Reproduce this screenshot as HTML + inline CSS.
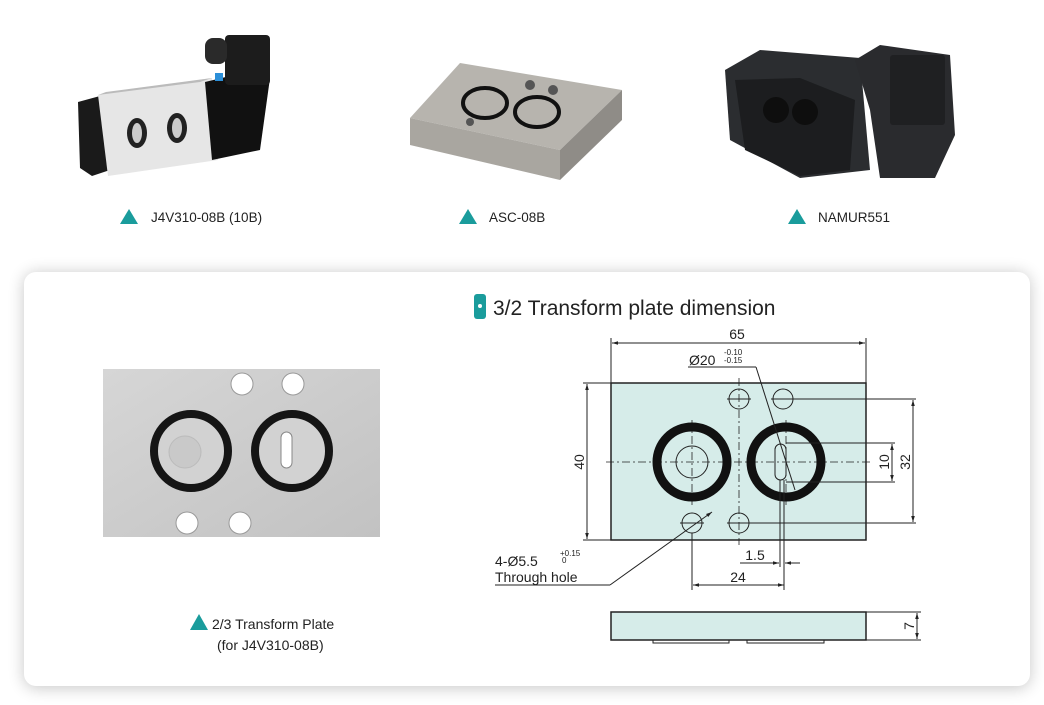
<!DOCTYPE html>
<html><head><meta charset="utf-8"><style>
html,body{margin:0;padding:0;background:#fff;}
svg{display:block;}
text{font-family:"Liberation Sans",sans-serif;}
</style></head><body>
<svg width="1044" height="705" viewBox="0 0 1044 705" xmlns="http://www.w3.org/2000/svg">
<defs>
<filter id="sh" x="-5%" y="-10%" width="110%" height="120%"><feGaussianBlur stdDeviation="8"/></filter>
<linearGradient id="al" x1="0" y1="0" x2="1" y2="1"><stop offset="0" stop-color="#d6d6d6"/><stop offset="1" stop-color="#c2c2c2"/></linearGradient>
<marker id="ar" viewBox="0 0 10 10" refX="10" refY="5" markerWidth="6" markerHeight="6" orient="auto-start-reverse"><path d="M0,2 L10,5 L0,8 z" fill="#222"/></marker>
</defs>
<rect x="24" y="273" width="1006" height="415" rx="12" fill="#000" opacity="0.22" filter="url(#sh)"/>
<rect x="24" y="272" width="1006" height="414" rx="12" fill="#fff"/>

<!-- product 1: valve -->
<polygon points="78,102 100,96 110,170 92,176 80,168" fill="#1a1a1a"/>
<polygon points="98,95 212,78 218,160 108,176" fill="#e6e6e6"/>
<polygon points="98,95 200,82 212,78 106,92" fill="#bbb"/>
<ellipse cx="137" cy="133" rx="10" ry="15" fill="#222"/><ellipse cx="137" cy="133" rx="5" ry="10" fill="#ccc"/>
<ellipse cx="177" cy="128" rx="10" ry="15" fill="#222"/><ellipse cx="177" cy="128" rx="5" ry="10" fill="#ccc"/>
<polygon points="205,82 255,70 270,78 260,150 212,160" fill="#111"/>
<rect x="225" y="35" width="45" height="50" rx="4" fill="#1c1c1c"/>
<rect x="205" y="38" width="22" height="26" rx="8" fill="#2a2a2a"/>
<rect x="215" y="73" width="8" height="8" fill="#2c8fd8"/>
<!-- product 2: ASC plate -->
<polygon points="410,118 460,63 622,90 560,150" fill="#b7b4ae"/>
<polygon points="410,118 560,150 560,180 410,145" fill="#a9a6a0"/>
<polygon points="560,150 622,90 622,120 560,180" fill="#8f8c87"/>
<ellipse cx="485" cy="103" rx="22" ry="15" fill="none" stroke="#111" stroke-width="4"/>
<ellipse cx="537" cy="112" rx="22" ry="15" fill="none" stroke="#111" stroke-width="4"/>
<circle cx="530" cy="85" r="5" fill="#555"/><circle cx="553" cy="90" r="5" fill="#555"/><circle cx="470" cy="122" r="4" fill="#555"/>
<!-- product 3: NAMUR -->
<polygon points="725,70 760,50 860,58 870,170 800,178 730,140" fill="#2b2d30"/>
<polygon points="735,80 800,78 855,100 850,170 800,176 745,150" fill="#1c1d1f"/>
<circle cx="776" cy="110" r="13" fill="#0e0e0e"/><circle cx="805" cy="112" r="13" fill="#0e0e0e"/>
<polygon points="855,60 880,45 950,55 955,135 935,178 880,178 870,110" fill="#2a2b2e"/>
<rect x="890" y="55" width="55" height="70" rx="3" fill="#1f2022"/>
<!-- captions -->
<g font-size="13.5" fill="#222">
<polygon points="120,224 129,209 138,224" fill="#1a9c9c"/><text x="151" y="222">J4V310-08B (10B)</text>
<polygon points="459,224 468,209 477,224" fill="#1a9c9c"/><text x="489" y="222">ASC-08B</text>
<polygon points="788,224 797,209 806,224" fill="#1a9c9c"/><text x="818" y="222">NAMUR551</text>
</g>

<!-- left plate photo -->
<rect x="103" y="369" width="277" height="168" fill="url(#al)"/>
<circle cx="242" cy="384" r="11" fill="#fff" stroke="#999"/><circle cx="293" cy="384" r="11" fill="#fff" stroke="#999"/>
<circle cx="187" cy="523" r="11" fill="#fff" stroke="#999"/><circle cx="240" cy="523" r="11" fill="#fff" stroke="#999"/>
<circle cx="191" cy="451" r="37" fill="#d2d2d2" stroke="#151515" stroke-width="8"/>
<circle cx="185" cy="452" r="16" fill="#c9c9c9" stroke="#bbb"/>
<circle cx="292" cy="451" r="37" fill="#d2d2d2" stroke="#151515" stroke-width="8"/>
<rect x="281" y="432" width="11" height="36" rx="5.5" fill="#fff" stroke="#888"/>
<polygon points="190,630 199,614 208,630" fill="#1a9c9c"/>
<text x="212" y="629" font-size="14" fill="#222">2/3 Transform Plate</text>
<text x="217" y="650" font-size="14" fill="#222">(for J4V310-08B)</text>

<!-- title -->
<rect x="474" y="294" width="12" height="25" rx="3" fill="#1a9c9c"/><circle cx="480" cy="306" r="2" fill="#fff"/>
<text x="493" y="315" font-size="21" fill="#222">3/2 Transform plate dimension</text>

<!-- drawing -->
<g stroke="#222" stroke-width="1" fill="none">
<rect x="611" y="383" width="255" height="157" fill="#d6ece9" stroke-width="1.5"/>
<line x1="611" y1="338" x2="611" y2="383"/><line x1="866" y1="338" x2="866" y2="383"/>
<line x1="612" y1="343" x2="865" y2="343" marker-start="url(#ar)" marker-end="url(#ar)"/>
<line x1="583" y1="383" x2="611" y2="383"/><line x1="583" y1="540" x2="611" y2="540"/>
<line x1="587" y1="384" x2="587" y2="539" marker-start="url(#ar)" marker-end="url(#ar)"/>
<g stroke-dasharray="8,3,2,3" stroke-width="0.8">
<line x1="606" y1="462" x2="870" y2="462"/><line x1="739" y1="378" x2="739" y2="545"/>
<line x1="692" y1="420" x2="692" y2="505"/><line x1="786" y1="420" x2="786" y2="505"/>
</g>
<circle cx="692" cy="462" r="35" stroke="#111" stroke-width="9"/>
<circle cx="786" cy="462" r="35" stroke="#111" stroke-width="9"/>
<circle cx="692" cy="462" r="16"/>
<rect x="775" y="444" width="11" height="36" rx="5.5"/>
<circle cx="739" cy="399" r="10"/><circle cx="783" cy="399" r="10"/>
<circle cx="692" cy="523" r="10"/><circle cx="739" cy="523" r="10"/>
<line x1="727" y1="399" x2="751" y2="399"/><line x1="771" y1="399" x2="916" y2="399"/>
<line x1="680" y1="523" x2="704" y2="523"/><line x1="727" y1="523" x2="916" y2="523"/>
<line x1="913" y1="400" x2="913" y2="522" marker-start="url(#ar)" marker-end="url(#ar)"/>
<line x1="786" y1="443" x2="895" y2="443"/><line x1="786" y1="482" x2="895" y2="482"/>
<line x1="892" y1="444" x2="892" y2="481" marker-start="url(#ar)" marker-end="url(#ar)"/>
<line x1="688" y1="367" x2="756" y2="367"/><line x1="756" y1="367" x2="795" y2="490"/>
<line x1="780" y1="480" x2="780" y2="567"/><line x1="784" y1="480" x2="784" y2="590"/>
<line x1="740" y1="563" x2="779" y2="563" marker-end="url(#ar)"/><line x1="800" y1="563" x2="785" y2="563" marker-end="url(#ar)"/>
<line x1="692" y1="533" x2="692" y2="590"/>
<line x1="693" y1="585" x2="784" y2="585" marker-start="url(#ar)" marker-end="url(#ar)"/>
<line x1="495" y1="585" x2="610" y2="585"/><line x1="610" y1="585" x2="712" y2="512" marker-end="url(#ar)"/>
<rect x="611" y="612" width="255" height="28" fill="#d6ece9" stroke-width="1.5"/>
<path d="M653,640 v3 h76 v-3 M747,640 v3 h77 v-3"/>
<line x1="866" y1="612" x2="921" y2="612"/><line x1="866" y1="640" x2="921" y2="640"/>
<line x1="917" y1="613" x2="917" y2="639" marker-start="url(#ar)" marker-end="url(#ar)"/>
</g>
<g font-family="DejaVu Sans,sans-serif" fill="#222" font-size="14">
<text x="737" y="339" text-anchor="middle">65</text>
<text x="689" y="365">Ø20</text><text x="724" y="355" font-size="8">-0.10</text><text x="724" y="363" font-size="8">-0.15</text>
<text transform="translate(584,462) rotate(-90)" text-anchor="middle">40</text>
<text transform="translate(889,462) rotate(-90)" text-anchor="middle">10</text>
<text transform="translate(910,462) rotate(-90)" text-anchor="middle">32</text>
<text x="755" y="560" text-anchor="middle">1.5</text>
<text x="738" y="582" text-anchor="middle">24</text>
<text x="495" y="566">4-Ø5.5</text><text x="560" y="556" font-size="8">+0.15</text><text x="562" y="563" font-size="8">0</text>
<text x="495" y="582">Through hole</text>
<text transform="translate(914,626) rotate(-90)" text-anchor="middle">7</text>
</g>
</svg>
</body></html>
